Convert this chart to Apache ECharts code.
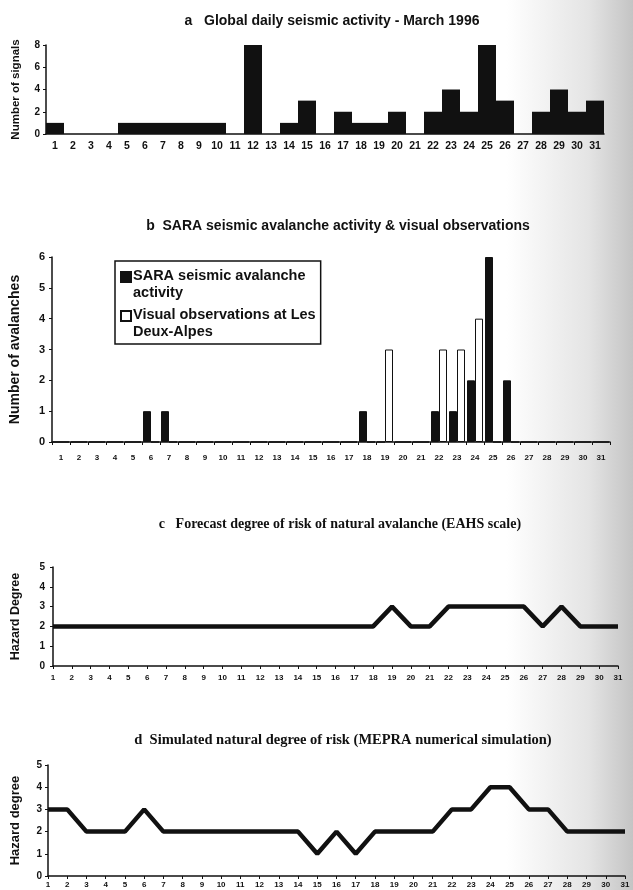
<!DOCTYPE html>
<html>
<head>
<meta charset="utf-8">
<script src="https://cdn.jsdelivr.net/npm/echarts@6/dist/echarts.min.js"></script>
<style>
html,body{margin:0;padding:0;}
body{background:linear-gradient(to right,#ffffff 0%,#ffffff 80%,#e4e4e4 93%,#c4c4c4 100%);}
#chart{width:633px;height:890px;}
</style>
</head>
<body>
<div id="chart"></div>
<script>
// ---- data ----
var days = ['1','2','3','4','5','6','7','8','9','10','11','12','13','14','15','16','17','18','19','20','21','22','23','24','25','26','27','28','29','30','31'];
var signals = [1,0,0,0,1,1,1,1,1,1,0,8,0,1,3,0,2,1,1,2,0,2,4,2,8,3,0,2,4,2,3];
var sara = [0,0,0,0,0,1,1,0,0,0,0,0,0,0,0,0,0,1,0,0,0,1,1,2,6,2,0,0,0,0,0];
var visual = [0,0,0,0,0,0,0,0,0,0,0,0,0,0,0,0,0,0,3,0,0,3,3,4,0,0,0,0,0,0,0];
var forecast = [2,2,2,2,2,2,2,2,2,2,2,2,2,2,2,2,2,2,3,2,2,3,3,3,3,3,2,3,2,2,2];
var simulated = [3,3,2,2,2,3,2,2,2,2,2,2,2,2,1,2,1,2,2,2,2,3,3,4,4,3,3,2,2,2,2];

var titleA = 'a   Global daily seismic activity - March 1996';
var titleB = 'b  SARA seismic avalanche activity & visual observations';
var titleC = 'c   Forecast degree of risk of natural avalanche (EAHS scale)';
var titleD = 'd  Simulated natural degree of risk (MEPRA numerical simulation)';
var nameSara = 'SARA seismic avalanche\nactivity';
var nameVisual = 'Visual observations at Les\nDeux-Alpes';

var ink = '#111';
var sans = 'Arial, "Liberation Sans", sans-serif';
var serif = '"Times New Roman", "Liberation Serif", serif';

function xAx(grid, gap, fs, margin, tick){
  return {
    type:'category', gridIndex:grid, data:days, boundaryGap:gap,
    axisLine:{lineStyle:{color:ink,width:1.5}},
    axisTick:{show:tick, length:3, inside:false, lineStyle:{color:ink}},
    axisLabel:{interval:0, color:ink, fontFamily:sans, fontWeight:'bold', fontSize:fs, margin:margin}
  };
}
function yAx(grid, max, interval, name, nameFs, nameWeight, nameGap, fs, margin){
  return {
    type:'value', gridIndex:grid, min:0, max:max, interval:interval,
    name:name, nameLocation:'middle', nameGap:nameGap,
    nameTextStyle:{color:ink, fontFamily:sans, fontSize:nameFs, fontWeight:nameWeight},
    axisLine:{show:true, lineStyle:{color:ink,width:1.5}},
    axisTick:{show:true, length:3, lineStyle:{color:ink}},
    splitLine:{show:false},
    axisLabel:{color:ink, fontFamily:sans, fontWeight:'bold', fontSize:fs, margin:margin}
  };
}

var legendIcon = 'path://M0 4h10v10H0z M0 0L0 0 M10 33L10 33';

var chart = echarts.init(document.getElementById('chart'), null, {renderer:'canvas'});
chart.setOption({
  backgroundColor:'transparent',
  animation:false,
  title:[
    {text:titleA, left:327, top:9, textAlign:'center', textStyle:{fontFamily:sans, fontWeight:'bold', fontSize:14, color:ink}},
    {text:titleB, left:333, top:214, textAlign:'center', textStyle:{fontFamily:sans, fontWeight:'bold', fontSize:14, color:ink}},
    {text:titleC, left:335, top:512, textAlign:'center', textStyle:{fontFamily:serif, fontWeight:'bold', fontSize:14, color:ink}},
    {text:titleD, left:338, top:728, textAlign:'center', textStyle:{fontFamily:serif, fontWeight:'bold', fontSize:14.5, color:ink}}
  ],
  legend:{
    show:true,
    data:[
      {name:nameSara, icon:legendIcon},
      {name:nameVisual, icon:legendIcon}
    ],
    orient:'vertical', left:115, top:261,
    padding:[6,5,3,5], itemGap:4, itemWidth:10, itemHeight:33,
    borderColor:ink, borderWidth:1.5, backgroundColor:'#fff',
    selectedMode:false,
    textStyle:{fontFamily:sans, fontWeight:'bold', fontSize:14.5, lineHeight:16.5, color:ink, padding:[0,0,0,-3]}
  },
  grid:[
    {left:46, top:45, width:558, height:89},
    {left:52, top:257, width:558, height:185},
    {left:53, top:567, width:565, height:99},
    {left:48, top:765, width:577, height:111}
  ],
  xAxis:[
    xAx(0, true, 10.5, 7, false),
    xAx(1, true, 8, 12, true),
    xAx(2, false, 8, 8, true),
    xAx(3, false, 8, 5, true)
  ],
  yAxis:[
    yAx(0, 8, 2, 'Number of signals', 11.5, 'bold', 24, 10, 6),
    yAx(1, 6, 1, 'Number of avalanches', 14, 'bold', 30, 11, 7),
    yAx(2, 5, 1, 'Hazard Degree', 12.5, 'bold', 31, 10, 8),
    yAx(3, 5, 1, 'Hazard degree', 13, 'bold', 26, 10, 6)
  ],
  series:[
    {type:'bar', name:'Global daily seismic activity', xAxisIndex:0, yAxisIndex:0, data:signals,
     barCategoryGap:'0%', itemStyle:{color:ink}},
    {type:'bar', name:nameSara, xAxisIndex:1, yAxisIndex:1, data:sara,
     barWidth:8, barGap:'0%', itemStyle:{color:ink, borderColor:ink, borderWidth:1}},
    {type:'bar', name:nameVisual, xAxisIndex:1, yAxisIndex:1, data:visual,
     barWidth:8, barGap:'0%', itemStyle:{color:'#fff', borderColor:ink, borderWidth:1}},
    {type:'line', name:'Forecast degree', xAxisIndex:2, yAxisIndex:2, data:forecast,
     symbol:'none', lineStyle:{color:ink, width:4.5}},
    {type:'line', name:'Simulated degree', xAxisIndex:3, yAxisIndex:3, data:simulated,
     symbol:'none', lineStyle:{color:ink, width:4.5}}
  ]
});
</script>
</body>
</html>
